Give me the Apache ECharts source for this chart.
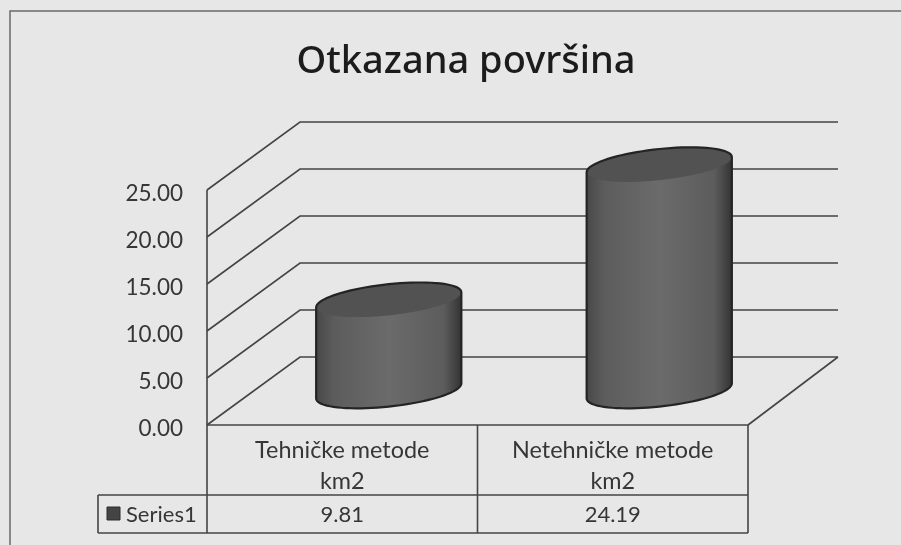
<!DOCTYPE html>
<html><head><meta charset="utf-8">
<style>html,body{margin:0;padding:0;background:#e7e7e7}#c{width:901px;height:545px}</style>
<script src="https://cdn.jsdelivr.net/npm/echarts@6/dist/echarts.min.js"></script>
</head><body><div id="c"></div>
<script>
const titleText = 'Otkazana površina';
const categories = ['Tehničke metode\nkm2', 'Netehničke metode\nkm2'];
const seriesName = 'Series1';
const values = [9.81, 24.19];
const yTicks = [0, 5, 10, 15, 20, 25];

const LINE = '#444444', TEXT = '#363636', FONT = 'Lato';
const DEPTH = [93, -68], BACK_RIGHT_TRIM = 3;
const A = 73, B = 15.5, ROT = -6.2 * Math.PI / 180;
const ROW2 = 70, ROW3 = 108, LEGEND_LEFT = 109;

function ell(cx, cy, t) {
  const c = Math.cos(t), s = Math.sin(t);
  return [cx + A * c * Math.cos(ROT) - B * s * Math.sin(ROT),
          cy + A * c * Math.sin(ROT) + B * s * Math.cos(ROT)];
}
const T0 = Math.atan2(-B * Math.sin(ROT), A * Math.cos(ROT));
function arc(cx, cy, from, to) {
  const pts = [];
  for (let i = 0; i <= 40; i++) pts.push(ell(cx, cy, from + (to - from) * i / 40));
  return pts;
}
const lineStyle = { stroke: LINE, lineWidth: 1.6, fill: null };

function renderWall(params, api) {
  const v = api.value(1), p = api.coord([0, v]), band = api.size([1, 0])[0];
  const p2 = api.coord([1, v]);
  const x0 = p[0] - band / 2, x1 = p2[0] + band / 2, y = p[1];
  const children = [{
    type: 'polyline',
    shape: { points: [[x0, y], [x0 + DEPTH[0], y + DEPTH[1]], [x1 + DEPTH[0] - BACK_RIGHT_TRIM, y + DEPTH[1]]] },
    style: lineStyle
  }];
  if (v === 0) {
    children.push({ type: 'polyline',
      shape: { points: [[x1, y], [x1 + DEPTH[0] - BACK_RIGHT_TRIM, y + DEPTH[1]]] }, style: lineStyle });
  }
  return { type: 'group', children };
}

function renderTable(params, api) {
  const p = api.coord([0, 0]), q = api.coord([1, 0]), band = api.size([1, 0])[0];
  const top = api.coord([0, yTicks[yTicks.length - 1]])[1];
  const x0 = p[0] - band / 2, xm = p[0] + band / 2, x1 = q[0] + band / 2, y = p[1];
  const seg = (a, b, c, d) => ({ type: 'line', shape: { x1: a, y1: b, x2: c, y2: d }, style: lineStyle });
  const children = [
    seg(x0, top, x0, y + ROW3),
    seg(x0, y, x1, y),
    seg(xm, y, xm, y + ROW3),
    seg(x1, y, x1, y + ROW3),
    seg(x0 - LEGEND_LEFT, y + ROW2, x1, y + ROW2),
    seg(x0 - LEGEND_LEFT, y + ROW3, x1, y + ROW3),
    seg(x0 - LEGEND_LEFT, y + ROW2, x0 - LEGEND_LEFT, y + ROW3),
    { type: 'rect', shape: { x: x0 - LEGEND_LEFT + 9, y: y + ROW2 + 12, width: 13, height: 13 },
      style: { fill: '#444', stroke: '#2c2c2c', lineWidth: 1 } },
    { type: 'text', style: { x: x0 - LEGEND_LEFT + 28, y: y + (ROW2 + ROW3) / 2 + 1, text: seriesName, fill: TEXT,
      font: '22px ' + FONT, textAlign: 'left', textVerticalAlign: 'middle' } }
  ];
  values.forEach((v, i) => {
    children.push({ type: 'text', style: { x: api.coord([i, 0])[0], y: y + (ROW2 + ROW3) / 2 + 1, text: v.toFixed(2), fill: TEXT,
      font: '22px ' + FONT, textAlign: 'center', textVerticalAlign: 'middle' } });
  });
  return { type: 'group', children };
}

function renderCylinder(params, api) {
  const base = api.coord([api.value(0), 0]), top = api.coord([api.value(0), api.value(1)]);
  const cx = base[0] + DEPTH[0] / 2, by = base[1] + DEPTH[1] / 2, ty = top[1] + DEPTH[1] / 2 + 1;
  const lower = arc(cx, by, T0, T0 + Math.PI);
  const upper = arc(cx, ty, T0 + Math.PI, T0 + 2 * Math.PI);
  const outline = lower.concat(upper);
  const bodyFill = { type: 'linear', x: 0, y: 0, x2: 1, y2: 0, colorStops: [
    { offset: 0, color: '#484848' }, { offset: 0.12, color: '#5c5c5c' }, { offset: 0.5, color: '#6b6b6b' },
    { offset: 0.88, color: '#5c5c5c' }, { offset: 1, color: '#343434' }] };
  return { type: 'group', children: [
    { type: 'polygon', shape: { points: outline }, style: { fill: bodyFill } },
    { type: 'polygon', shape: { points: arc(cx, ty, 0, 2 * Math.PI) }, style: { fill: '#525252' } },
    { type: 'polygon', shape: { points: outline }, style: { fill: null, stroke: '#242424', lineWidth: 2.2 } }
  ] };
}

const chart = echarts.init(document.getElementById('c'), null, { renderer: 'canvas' });
chart.setOption({
  animation: false,
  backgroundColor: '#e7e7e7',
  title: { text: titleText, left: 461, top: 38, textAlign: 'center',
    textStyle: { fontFamily: 'Noto Sans', fontSize: 38, fontWeight: 500, color: '#1c1c1c' } },
  grid: { left: 207, right: 153, top: 190, bottom: 120 },
  xAxis: { type: 'category', data: categories, axisLine: { show: false }, axisTick: { show: false },
    axisLabel: { margin: 10, fontFamily: FONT, fontSize: 23.4, lineHeight: 31, color: TEXT, interval: 0 } },
  yAxis: { type: 'value', min: 0, max: 25, interval: 5, axisLine: { show: false }, axisTick: { show: false },
    splitLine: { show: false },
    axisLabel: { margin: 24, verticalAlign: 'top', lineHeight: 8, fontFamily: FONT, fontSize: 22.5, color: TEXT, formatter: v => v.toFixed(2) } },
  graphic: [{ type: 'polyline', silent: true, shape: { points: [[10, 545], [10, 11], [901, 11]] },
    style: { stroke: '#6a6a6a', lineWidth: 1.5, fill: null } }],
  series: [
    { type: 'custom', name: 'grid', z: 1, silent: true, renderItem: renderWall, data: yTicks.map(v => [0, v]) },
    { type: 'custom', name: 'table', z: 2, silent: true, renderItem: renderTable, data: [[0, 0]] },
    { type: 'custom', name: seriesName, z: 3, silent: true, renderItem: renderCylinder,
      encode: { x: 0, y: 1 }, data: values.map((v, i) => [i, v]) }
  ]
});
</script></body></html>
